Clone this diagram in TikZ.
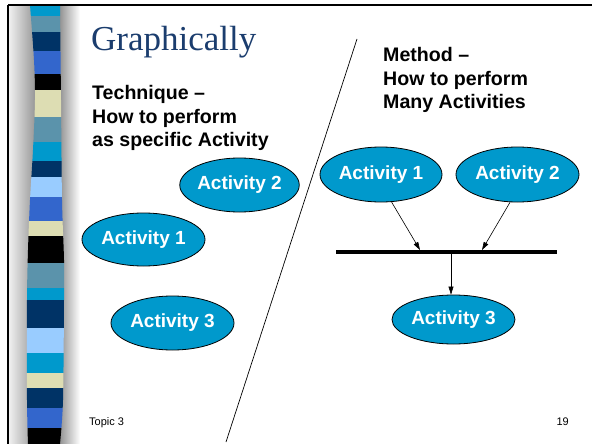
\documentclass[tikz,border=0pt]{standalone}
\usepackage{fontspec}
\setmainfont{Liberation Serif}
\newfontfamily\arialf{Liberation Sans}
\usetikzlibrary{shapes.geometric,arrows.meta}
\definecolor{cyanS}{HTML}{0099CC}
\definecolor{steelS}{HTML}{5B93AB}
\definecolor{navyS}{HTML}{003366}
\definecolor{royalS}{HTML}{3366CC}
\definecolor{beigeS}{HTML}{DDDDB3}
\definecolor{lightS}{HTML}{99CCFF}
\definecolor{titleblue}{HTML}{1B3D6E}
\definecolor{actfill}{HTML}{0099CC}
\tikzset{
  act/.style={ellipse, draw=black, line width=0.8pt, fill=actfill, text=white,
    font=\arialf\bfseries\fontsize{19}{22}\selectfont, inner sep=0pt},
  heading/.style={font=\arialf\bfseries\fontsize{19.6}{23.5}\selectfont, align=left, inner sep=0pt, anchor=north west},
  footer/.style={font=\arialf\fontsize{11}{13}\selectfont, inner sep=0pt},
  arr/.style={draw=black, line width=0.6pt, -{Triangle[length=8pt,width=5pt]}},
}
\begin{document}
\begin{tikzpicture}[x=1pt,y=-1pt]
\useasboundingbox (0,0) rectangle (592,444);
\fill[white] (0,0) rectangle (592,444);
% shadows beside the stripe bar
\shade[left color=white!94!black, right color=black!42] (9,5) rectangle (36,444);
\shade[left color=black!48, right color=white] (57,5) rectangle (80,444);
% stripe bar
\begin{scope}
\clip plot[smooth] coordinates {(30,5) (34,60) (35,100) (33,150) (30,200) (28,250) (27,300) (27,400) (28,444)}
  -- plot[smooth] coordinates {(60,444) (63,400) (64,300) (64,260) (62,200) (61,100) (60,5)} -- cycle;
\foreach \ya/\yb/\c in {5/16/cyanS, 16/32/steelS, 32/51/navyS, 51/74/royalS, 74/90/black,
  90/117/beigeS, 117/142/steelS, 142/161/cyanS, 161/177/navyS, 177/197/lightS, 197/221/royalS,
  221/236/beigeS, 236/263/black, 263/288/steelS, 288/300/cyanS, 300/328/navyS, 328/353/lightS,
  353/373/cyanS, 373/388/beigeS, 388/408/navyS, 408/428/royalS, 428/445/black}
  \fill[\c] (20,\ya) rectangle (70,\yb);
\end{scope}
% frame
\draw[line width=2pt] (8,5) -- (592,5);
\draw[line width=1.2pt] (8,5) -- (8,444);
% title and headings
\node[font=\fontsize{35}{40}\selectfont, text=titleblue, inner sep=0pt, anchor=base west] (title) at (91,51) {Graphically};
\node[heading] (tech) at (92,85.5) {Technique –\\How to perform\\as specific Activity};
\node[heading] (meth) at (383,47.5) {Method –\\How to perform\\Many Activities};
% divider
\coordinate (dtop) at (357,39);
\coordinate (dbot) at (226,442);
\draw[line width=0.7pt] (dtop) -- (dbot);
% left activities
\node[act, minimum width=119pt, minimum height=54pt] (l2) at (239.5,185) {Activity 2};
\node[act, minimum width=123pt, minimum height=53pt] (l1) at (143.5,239.5) {Activity 1};
\node[act, minimum width=123pt, minimum height=54pt] (l3) at (172.5,323) {Activity 3};
% right activities
\node[act, minimum width=122pt, minimum height=55pt] (r1) at (381,174.5) {Activity 1};
\node[act, minimum width=123pt, minimum height=55pt] (r2) at (517.5,174.5) {Activity 2};
\node[act, minimum width=123pt, minimum height=49pt] (r3) at (453.5,319.5) {Activity 3};
% joining bar
\coordinate (barL) at (336,252);
\coordinate (barR) at (557,252);
\draw[line width=3.6pt] (barL) -- (barR);
\coordinate (in1) at (420,250);
\coordinate (in2) at (482,250);
\coordinate (outM) at (451,254);
\draw[arr] (r1.-69) -- (in1);
\draw[arr] (r2.-105) -- (in2);
\draw[arr] (outM) -- (outM |- r3.north);
% footer
\node[footer, anchor=base west] (topic) at (89,425) {Topic 3};
\node[footer, anchor=base east] (page) at (569,425) {19};
\end{tikzpicture}
\end{document}
